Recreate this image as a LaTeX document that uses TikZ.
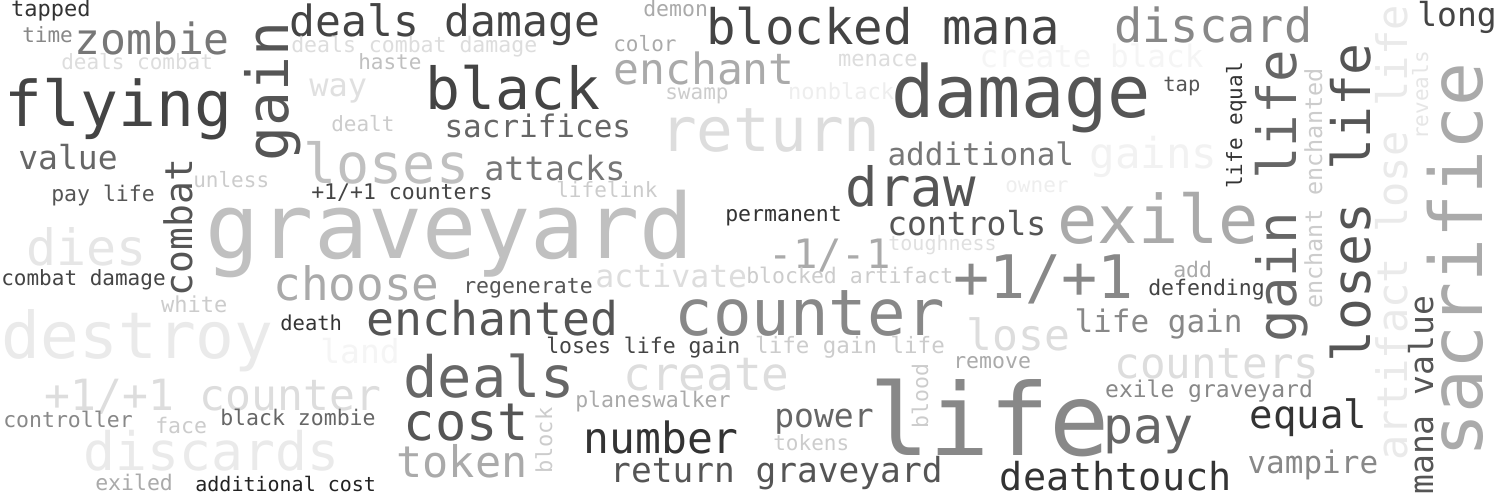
\documentclass[tikz,border=0pt]{standalone}
\usepackage{fontspec}
\setmainfont{DejaVu Sans Mono}
\definecolor{c22}{HTML}{222222}
\definecolor{c33}{HTML}{333333}
\definecolor{c44}{HTML}{444444}
\definecolor{c55}{HTML}{555555}
\definecolor{c66}{HTML}{666666}
\definecolor{c77}{HTML}{777777}
\definecolor{c88}{HTML}{888888}
\definecolor{caa}{HTML}{AAAAAA}
\definecolor{cbb}{HTML}{C0C0C0}
\definecolor{ccc}{HTML}{CCCCCC}
\definecolor{cdd}{HTML}{DDDDDD}
\definecolor{ce0}{HTML}{E0E0E0}
\definecolor{ce6}{HTML}{E6E6E6}
\definecolor{ceb}{HTML}{EAEAEA}
\definecolor{cee}{HTML}{EEEEEE}
\definecolor{cf2}{HTML}{F2F2F2}
\definecolor{cf5}{HTML}{F5F5F5}
\tikzset{word/.style={inner sep=0pt,outer sep=0pt,anchor=base west}}
\newcommand{\hw}[6]{\node[word,text=#5,font=\fontsize{#4}{#4}\selectfont] (#1) at ({#2-0.08*#4},#3) {#6};}
\newcommand{\vw}[6]{\node[word,rotate=90,text=#5,font=\fontsize{#4}{#4}\selectfont] (#1) at (#2,{#3+0.08*#4}) {#6};}
\begin{document}
\begin{tikzpicture}[x=1pt,y=-1pt]
\fill[white] (0,0) rectangle (1500,500);
\useasboundingbox (0,0) rectangle (1500,500);
% faint background words first
\hw{createblack}{982}{68}{31}{cf5}{create black}
\hw{gains}{1093}{168}{42.5}{cf2}{gains}
\hw{nonblack}{790}{100}{22}{cee}{nonblack}
\hw{land}{323}{363}{33}{cf5}{land}
\vw{artifact}{1407}{457}{42}{ceb}{artifact lose life}
\vw{reveals}{1428}{138}{21}{ce6}{reveals}
\hw{destroy}{7}{358}{64.5}{ceb}{destroy}
\hw{discards}{88}{470}{53}{ceb}{discards}
\hw{dies}{30}{265}{50}{ce6}{dies}
\hw{way}{312}{97}{32}{ce0}{way}
\hw{owner}{1007}{193}{21}{cee}{owner}
\hw{toughness}{890}{250}{20}{ce0}{toughness}
% top-left
\hw{tapped}{13}{17}{22}{c33}{tapped}
\hw{time}{24}{43}{21}{c88}{time}
\hw{zombie}{78}{55}{43}{c77}{zombie}
\hw{dealscombat}{63}{70}{21}{cdd}{deals combat}
\hw{flying}{10}{127}{63}{c44}{flying}
\vw{gain}{288}{157}{58}{c55}{gain}
\hw{value}{21}{170}{33}{c66}{value}
\hw{paylife}{53}{201}{21.5}{c55}{pay life}
\vw{combat}{192}{293}{38}{c55}{combat}
\hw{unless}{195}{187}{21}{ccc}{unless}
\hw{pcounters}{313}{200}{21.5}{c44}{+1/+1 counters}
\hw{graveyard}{213}{258}{90}{cbb}{graveyard}
\hw{dealsdamage}{293}{37}{43}{c44}{deals damage}
\hw{dcd}{293}{53}{21.5}{cdd}{deals combat damage}
\hw{haste}{360}{70}{21}{cbb}{haste}
\hw{dealt}{333}{132}{21}{ccc}{dealt}
\hw{black}{430}{110}{58}{c44}{black}
\hw{sacrifices}{447}{138}{31}{c66}{sacrifices}
\hw{loses}{308}{183}{55}{cbb}{loses}
\hw{attacks}{487}{180}{33.5}{c77}{attacks}
% top-middle
\hw{demon}{645}{17}{21.5}{caa}{demon}
\hw{blockedmana}{710}{45}{49}{c44}{blocked mana}
\hw{color}{615}{52}{21}{caa}{color}
\hw{menace}{840}{67}{22}{cdd}{menace}
\hw{enchant}{617}{85}{43}{caa}{enchant}
\hw{swamp}{667}{100}{21}{ccc}{swamp}
\hw{damage}{897}{118}{72}{c55}{damage}
\hw{return}{665}{152}{61}{cdd}{return}
\hw{additional}{890}{165}{31}{c77}{additional}
\hw{draw}{850}{207}{54}{c55}{draw}
\hw{lifelink}{558}{197}{21}{ccc}{lifelink}
\hw{permanent}{727}{222}{21.5}{c33}{permanent}
\hw{controls}{890}{235}{33}{c55}{controls}
\hw{mm}{772}{268}{40.5}{caa}{-1/-1}
% top-right
\hw{exile}{1063}{243}{67}{caa}{exile}
\hw{tap}{1165}{92}{20.5}{c55}{tap}
\hw{long}{1420}{27}{33}{c44}{long}
\hw{discard}{1118}{43}{47}{c88}{discard}
\vw{lifeequal}{1242}{187}{21}{c33}{life equal}
\vw{gainlife}{1296}{338}{54}{c66}{gain life}
\vw{enchants}{1322}{307}{23.5}{ccc}{enchant enchanted}
\vw{loseslife}{1370}{358}{53}{c55}{loses life}
\vw{sacrifice}{1482}{452}{73}{caa}{sacrifice}
\vw{manavalue}{1433}{492}{33}{c55}{mana value}
% bottom-left
\hw{combatdamage}{3}{285}{21}{c44}{combat damage}
\hw{white}{163}{312}{22}{ccc}{white}
\hw{choose}{277}{300}{46}{caa}{choose}
\hw{regenerate}{465}{293}{21.5}{c55}{regenerate}
\hw{death}{282}{330}{20.5}{c33}{death}
\hw{enchanted}{370}{335}{46.5}{c55}{enchanted}
\hw{pcounter}{48}{410}{43}{cdd}{+1/+1 counter}
\hw{deals}{408}{397}{57}{c66}{deals}
\hw{controller}{5}{427}{21.5}{c88}{controller}
\hw{face}{157}{433}{21.5}{ccc}{face}
\hw{blackzombie}{222}{425}{21.5}{c66}{black zombie}
\hw{cost}{408}{440}{52}{c55}{cost}
\hw{token}{400}{477}{43.5}{caa}{token}
\hw{exiled}{97}{490}{21.5}{caa}{exiled}
\hw{additionalcost}{197}{491}{20}{c22}{additional cost}
% bottom-middle
\hw{activate}{598}{287}{31.5}{cdd}{activate}
\hw{blockedartifact}{748}{283}{21.5}{ccc}{blocked artifact}
\hw{counter}{680}{335}{64}{c88}{counter}
\hw{pp}{958}{298}{60}{c88}{+1/+1}
\hw{loseslifegain}{548}{353}{21.5}{c44}{loses life gain}
\hw{lifegainlife}{757}{353}{22.5}{ccc}{life gain life}
\hw{lose}{970}{350}{43}{cdd}{lose}
\hw{remove}{955}{368}{21.5}{caa}{remove}
\hw{create}{627}{390}{46}{cdd}{create}
\hw{planeswalker}{577}{407}{21.5}{caa}{planeswalker}
\hw{power}{777}{427}{33}{c66}{power}
\hw{tokens}{775}{450}{21}{ccc}{tokens}
\vw{block}{552}{472}{22}{ccc}{block}
\vw{blood}{928}{427}{21.5}{ccc}{blood}
\hw{number}{587}{453}{43}{c33}{number}
\hw{returngraveyard}{613}{482}{34.5}{c55}{return graveyard}
\hw{life}{877}{455}{100}{c88}{life}
% bottom-right
\hw{pay}{1107}{443}{50}{c66}{pay}
\hw{add}{1175}{277}{21.5}{caa}{add}
\hw{defending}{1150}{295}{21.5}{c44}{defending}
\hw{lifegain}{1077}{332}{31}{c88}{life gain}
\hw{counters}{1118}{378}{42.5}{cdd}{counters}
\hw{exilegraveyard}{1107}{397}{23}{c88}{exile graveyard}
\hw{equal}{1253}{428}{39}{c33}{equal}
\hw{vampire}{1250}{473}{31}{c88}{vampire}
\hw{deathtouch}{1003}{490}{38.5}{c33}{deathtouch}
\end{tikzpicture}
\end{document}
